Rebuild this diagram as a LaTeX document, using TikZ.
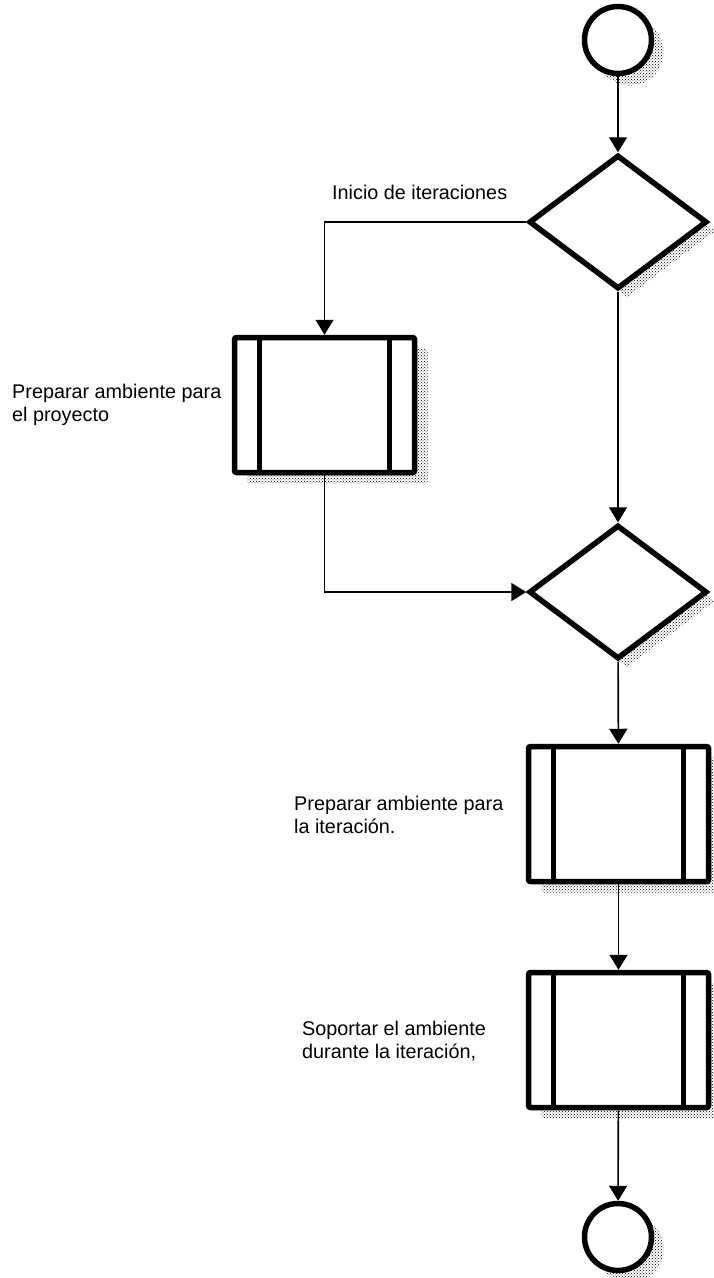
\documentclass[tikz,border=0pt]{standalone}
\usepackage{fontspec}
\setmainfont{Liberation Sans}
\usetikzlibrary{arrows.meta,shapes.geometric,shadows,patterns}

\tikzset{
  shade dots/.style={pattern=crosshatch dots, pattern color=black},
  thickline/.style={line width=5.5pt},
  terminal/.style={circle, draw, thickline, fill=white, minimum size=67pt, inner sep=0pt,
    drop shadow={shadow xshift=12pt, shadow yshift=-12pt, opacity=1, shade dots}},
  decision/.style={diamond, draw, thickline, fill=white, minimum width=178pt, minimum height=134pt,
    inner sep=0pt, aspect=1.3,
    drop shadow={shadow xshift=9pt, shadow yshift=-9pt, opacity=1, shade dots}},
  subprocess/.style={rectangle, draw, thickline, fill=white, rounded corners=2pt,
    minimum width=180pt, minimum height=135pt, inner sep=0pt,
    drop shadow={shadow xshift=13pt, shadow yshift=-11pt, opacity=1, shade dots},
    path picture={
      \draw[thickline] ([xshift=25pt]path picture bounding box.north west) -- ([xshift=25pt]path picture bounding box.south west);
      \draw[thickline] ([xshift=-25pt]path picture bounding box.north east) -- ([xshift=-25pt]path picture bounding box.south east);
    }},
  flow/.style={line width=1.6pt, -{Triangle[length=15pt,width=18pt]}},
  label/.style={anchor=west, align=left, inner sep=0pt,
    font=\fontsize{19.8}{22.5}\selectfont},
}

\begin{document}
\begin{tikzpicture}[x=1pt,y=-1pt]
  \useasboundingbox (0,0) rectangle (714,1278);

  % shapes of the flow
  \node[terminal]   (start) at (618,40) {};
  \node[decision]   (d1)    at (618,222) {};
  \node[subprocess] (b1)    at (324.5,405) {};
  \node[decision]   (d2)    at (618,592) {};
  \node[subprocess] (b2)    at (618.5,814) {};
  \node[subprocess] (b3)    at (618.5,1040) {};
  \node[terminal]   (stop)  at (618,1237) {};

  % labels
  \node[label] (l0) at (332,192) {Inicio de iteraciones};
  \node[label] (l1) at (12,405) {Preparar ambiente para\\el proyecto};
  \node[label] (l2) at (294,815) {Preparar ambiente para\\la iteración.};
  \node[label] (l3) at (302,1041) {Soportar el ambiente\\durante la iteración,};

  % connectors
  \draw[flow] (start) -- (d1);
  \draw[flow] (d1.west) -| (b1.north);
  \draw[flow] (d1) -- (d2);
  \draw[flow] (b1.south) |- (d2.west);
  \draw[flow] (d2) -- (b2);
  \draw[flow] (b2) -- (b3);
  \draw[flow] (b3) -- (stop);
\end{tikzpicture}
\end{document}
